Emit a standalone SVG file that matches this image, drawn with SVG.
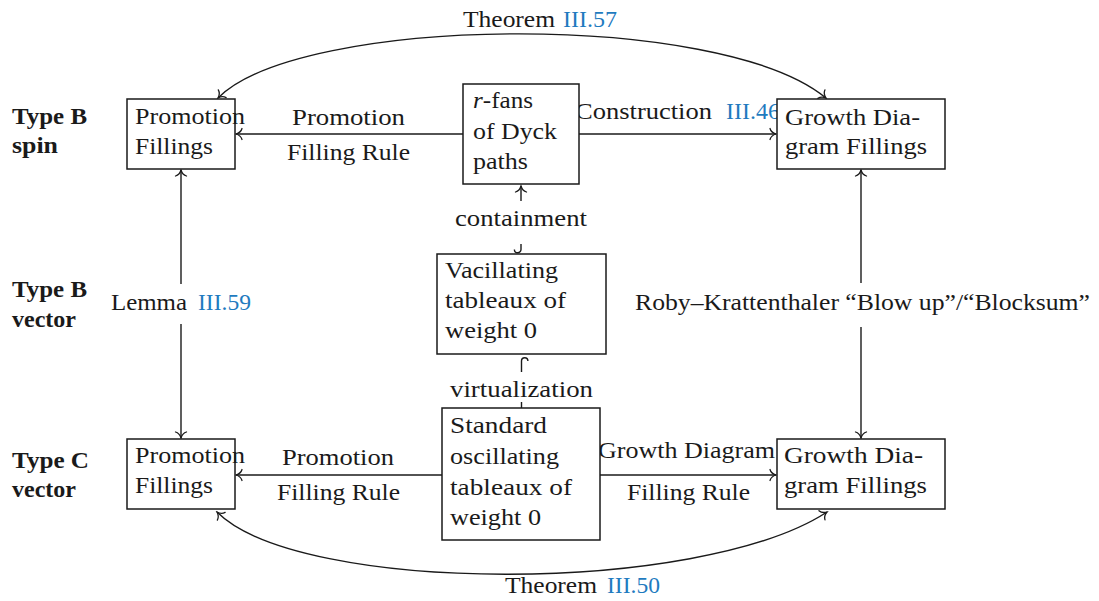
<svg xmlns="http://www.w3.org/2000/svg" width="1099" height="601" viewBox="0 0 1099 601">
  <style>
    text { font-family: "Liberation Serif", "Times New Roman", serif; font-size: 24px; fill: #1a1a1a; }
    .ref { fill: #1f7bbf; }
    .bold { font-weight: bold; }
    .box { fill: #ffffff; stroke: #1a1a1a; stroke-width: 1.5; }
    .edge { fill: none; stroke: #1a1a1a; stroke-width: 1.4; }
    .arrow { marker-end: url(#to); }
    .both { marker-start: url(#to); marker-end: url(#to); }
  </style>
  <defs>
    <marker id="to" viewBox="-8 -7 10 14" refX="0" refY="0" markerWidth="10" markerHeight="14" markerUnits="userSpaceOnUse" orient="auto-start-reverse">
      <path d="M-6,-5.5 C-5,-2 -2,-0.6 0,0 C-2,0.6 -5,2 -6,5.5" fill="none" stroke="#1a1a1a" stroke-width="1.3" stroke-linecap="round"/>
    </marker>
  </defs>

  <!-- row labels -->
  <g id="row-labels">
    <text class="bold" x="12" y="124" textLength="75" lengthAdjust="spacingAndGlyphs">Type B</text>
    <text class="bold" x="12" y="153" textLength="46" lengthAdjust="spacingAndGlyphs">spin</text>
    <text class="bold" x="12" y="297" textLength="75" lengthAdjust="spacingAndGlyphs">Type B</text>
    <text class="bold" x="12" y="327" textLength="64" lengthAdjust="spacingAndGlyphs">vector</text>
    <text class="bold" x="12" y="468" textLength="77" lengthAdjust="spacingAndGlyphs">Type C</text>
    <text class="bold" x="12" y="497" textLength="64" lengthAdjust="spacingAndGlyphs">vector</text>
  </g>

  <!-- connectors -->
  <g id="connectors">
    <!-- arcs between the corner boxes -->
    <path class="edge both" d="M218,98 C300,15 720,10 826,98"/>
    <path class="edge both" d="M217,512 C300,595 700,595 827,512"/>
    <!-- horizontal rules -->
    <path class="edge arrow" d="M463,134 H236"/>
    <path class="edge arrow" d="M579,134 H776"/>
    <path class="edge arrow" d="M442,475 H236"/>
    <path class="edge arrow" d="M600,475 H776"/>
    <!-- left vertical, split around its label -->
    <path class="edge arrow" d="M181,284 V170"/>
    <path class="edge arrow" d="M181,324 V438"/>
    <!-- right vertical, split around its label -->
    <path class="edge arrow" d="M861,283 V170"/>
    <path class="edge arrow" d="M861,327 V438"/>
    <!-- containment: hooked tail at the lower box -->
    <path class="edge arrow" d="M521,201 V186"/>
    <path class="edge" d="M521,244 V249.5 A3.3,3.3 0 0 1 514.4,249.5"/>
    <!-- virtualization: hooked tail at the upper box -->
    <path class="edge" d="M521.5,372 V361 A3.2,3.2 0 0 1 527.9,361"/>
    <path class="edge" d="M521.5,402 V408"/>

    <!-- edge labels -->
    <text x="463" y="27" textLength="92" lengthAdjust="spacingAndGlyphs">Theorem</text>
    <text class="ref" x="563" y="27" textLength="54" lengthAdjust="spacingAndGlyphs">III.57</text>
    <text x="505" y="593" textLength="92" lengthAdjust="spacingAndGlyphs">Theorem</text>
    <text class="ref" x="607" y="593" textLength="53" lengthAdjust="spacingAndGlyphs">III.50</text>

    <text x="292" y="125" textLength="113" lengthAdjust="spacingAndGlyphs">Promotion</text>
    <text x="287" y="160" textLength="123" lengthAdjust="spacingAndGlyphs">Filling Rule</text>
    <text x="575" y="119" textLength="137" lengthAdjust="spacingAndGlyphs">Construction</text>
    <text class="ref" x="726" y="119" textLength="54" lengthAdjust="spacingAndGlyphs">III.46</text>

    <text x="282" y="465" textLength="112" lengthAdjust="spacingAndGlyphs">Promotion</text>
    <text x="277" y="500" textLength="123" lengthAdjust="spacingAndGlyphs">Filling Rule</text>
    <text x="598" y="458" textLength="177" lengthAdjust="spacingAndGlyphs">Growth Diagram</text>
    <text x="627" y="500" textLength="123" lengthAdjust="spacingAndGlyphs">Filling Rule</text>

    <text x="111" y="310" textLength="76" lengthAdjust="spacingAndGlyphs">Lemma</text>
    <text class="ref" x="198" y="310" textLength="53" lengthAdjust="spacingAndGlyphs">III.59</text>
    <text x="635" y="310" textLength="455" lengthAdjust="spacingAndGlyphs">Roby–Krattenthaler “Blow up”/“Blocksum”</text>

    <text x="455" y="226" textLength="132" lengthAdjust="spacingAndGlyphs">containment</text>
    <text x="450" y="397" textLength="143" lengthAdjust="spacingAndGlyphs">virtualization</text>
  </g>

  <!-- nodes -->
  <g id="promo-spin">
    <rect class="box" x="127" y="99" width="108" height="70"/>
    <text x="135" y="124" textLength="110" lengthAdjust="spacingAndGlyphs">Promotion</text>
    <text x="135" y="154" textLength="78" lengthAdjust="spacingAndGlyphs">Fillings</text>
  </g>

  <g id="rfans">
    <rect class="box" x="463" y="84" width="116" height="100"/>
    <text x="473" y="108" textLength="60" lengthAdjust="spacingAndGlyphs"><tspan font-style="italic">r</tspan>-fans</text>
    <text x="473" y="139" textLength="84" lengthAdjust="spacingAndGlyphs">of Dyck</text>
    <text x="473" y="169" textLength="55" lengthAdjust="spacingAndGlyphs">paths</text>
  </g>

  <g id="growth-spin">
    <rect class="box" x="777" y="99" width="168" height="70"/>
    <text x="785" y="125" textLength="135" lengthAdjust="spacingAndGlyphs">Growth Dia-</text>
    <text x="785" y="154" textLength="142" lengthAdjust="spacingAndGlyphs">gram Fillings</text>
  </g>

  <g id="vacillating">
    <rect class="box" x="437" y="254" width="169" height="100"/>
    <text x="445" y="278" textLength="113" lengthAdjust="spacingAndGlyphs">Vacillating</text>
    <text x="445" y="308" textLength="121" lengthAdjust="spacingAndGlyphs">tableaux of</text>
    <text x="445" y="338" textLength="92" lengthAdjust="spacingAndGlyphs">weight 0</text>
  </g>

  <g id="oscillating">
    <rect class="box" x="442" y="408" width="158" height="132"/>
    <text x="450" y="433" textLength="97" lengthAdjust="spacingAndGlyphs">Standard</text>
    <text x="450" y="464" textLength="109" lengthAdjust="spacingAndGlyphs">oscillating</text>
    <text x="450" y="495" textLength="122" lengthAdjust="spacingAndGlyphs">tableaux of</text>
    <text x="450" y="525" textLength="91" lengthAdjust="spacingAndGlyphs">weight 0</text>
  </g>

  <g id="promo-vector">
    <rect class="box" x="127" y="439" width="108" height="70"/>
    <text x="135" y="463" textLength="110" lengthAdjust="spacingAndGlyphs">Promotion</text>
    <text x="135" y="493" textLength="78" lengthAdjust="spacingAndGlyphs">Fillings</text>
  </g>

  <g id="growth-vector">
    <rect class="box" x="777" y="439" width="168" height="70"/>
    <text x="784" y="463" textLength="139" lengthAdjust="spacingAndGlyphs">Growth Dia-</text>
    <text x="784" y="493" textLength="143" lengthAdjust="spacingAndGlyphs">gram Fillings</text>
  </g>
</svg>
